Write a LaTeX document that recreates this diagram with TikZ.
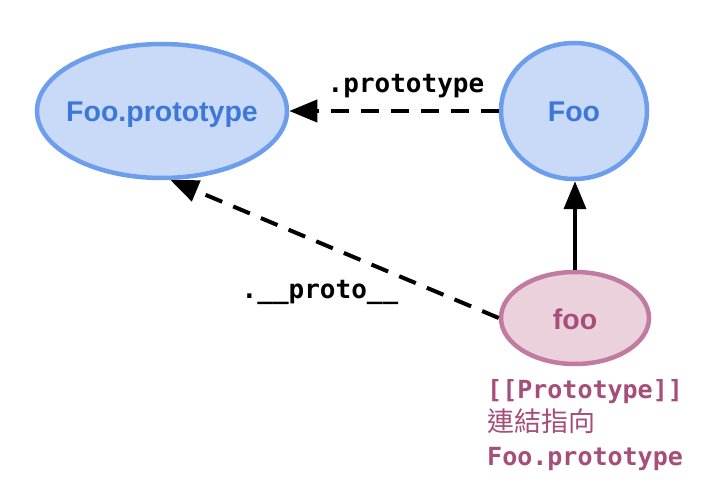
\documentclass[tikz,border=0pt]{standalone}
\usepackage{fontspec}
\setmainfont{Liberation Sans}
\setmonofont{DejaVu Sans Mono}
\newfontfamily\cjkfont{Noto Sans CJK TC}
\usetikzlibrary{positioning, shapes.geometric, arrows.meta}
\definecolor{protoblue}{RGB}{201,218,248}
\definecolor{protoblueline}{RGB}{109,158,235}
\definecolor{protobluetext}{RGB}{60,120,216}
\definecolor{objpink}{RGB}{234,209,220}
\definecolor{objpinkline}{RGB}{194,123,160}
\definecolor{objpinktext}{RGB}{166,77,121}

\begin{document}
\begin{tikzpicture}[x=1pt, y=1pt,
    blob/.style={ellipse, draw, line width=4.5pt, inner sep=0pt},
    blobtext/.style={inner sep=0pt, font=\bfseries\fontsize{28.5}{28.5}\selectfont, text height=22pt, text depth=0pt},
    bluebox/.style={blob, fill=protoblue, draw=protoblueline},
    link/.style={line width=4pt, -{Triangle[length=28pt,width=22pt]}},
    dashlink/.style={link, dash pattern=on 18pt off 12pt},
    lbl/.style={font=\ttfamily\bfseries\fontsize{26}{26}\selectfont, inner sep=0pt, anchor=base}]
    \useasboundingbox (0,0) rectangle (718,499);
    % the three objects
    \node[bluebox, minimum width=250pt, minimum height=134pt] (fooproto) at (162,388) {};
    \node[blobtext, text=protobluetext] (fooprototext) at (fooproto.center) {Foo.prototype};
    \node[bluebox, minimum width=146pt, minimum height=136pt] (fooctor) at (574,388) {};
    \node[blobtext, text=protobluetext] (fooctortext) at (fooctor.center) {Foo};
    \node[blob, fill=objpink, draw=objpinkline, minimum width=148pt, minimum height=92pt] (fooobj) at (575,181) {};
    \node[blobtext, text=objpinktext] (fooobjtext) at (fooobj.center) {foo};
    % links
    \draw[dashlink] (fooctor.west) -- (fooproto.east);
    \draw[dashlink] (fooobj.west) -- (fooproto.-83);
    \draw[link] (fooobj.north) -- (fooobj.north |- fooctor.south);
    \node[lbl] (protolbl) at (406,406) {.prototype};
    \node[lbl] (dunderlbl) at (320,201) {.\_\_proto\_\_};
    % note under foo
    \node[anchor=base west, inner sep=0pt, align=left, text=objpinktext, font=\ttfamily\bfseries\fontsize{25}{33.5}\selectfont] (note) at (487,34)
        {[[Prototype]]\\{\cjkfont\mdseries\fontsize{27}{33.5}\selectfont 連結指向}\\Foo.prototype};
\end{tikzpicture}
\end{document}
